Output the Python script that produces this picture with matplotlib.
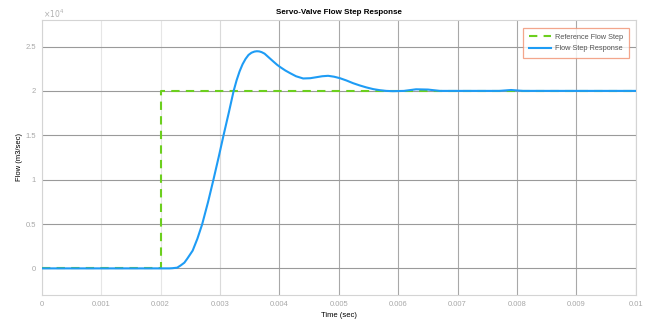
import numpy as np
import matplotlib
matplotlib.use('Agg')
import matplotlib.pyplot as plt

plt.rcParams['font.family'] = ['Liberation Sans', 'DejaVu Sans']

# Reference step command (time in sec, flow in m3/sec)
ref_t = [0.0, 0.002, 0.002, 0.01]
ref_flow = [0.0, 0.0, 2.0e4, 2.0e4]

# Simulated servo-valve flow response, sampled off the run (flow in 1e4 m3/sec)
resp_t = [0.0, 0.00215, 0.00220, 0.00228, 0.00234, 0.00240, 0.00245, 0.00254,
          0.00262, 0.00270, 0.00280, 0.00289, 0.00298, 0.00306, 0.00315,
          0.00323, 0.00328, 0.00333, 0.00338, 0.00343, 0.00348, 0.00353,
          0.00358, 0.00362, 0.00366, 0.00370, 0.00375, 0.00380, 0.00385,
          0.00390, 0.00396, 0.00401, 0.00410, 0.00418, 0.00428,
          0.00440, 0.00452, 0.00463, 0.00472, 0.00482, 0.00492, 0.00502,
          0.00513, 0.00524, 0.00535, 0.00546, 0.00558, 0.00569, 0.00580,
          0.00591, 0.0061, 0.0063, 0.0065, 0.0067, 0.0070, 0.0077, 0.0079,
          0.0081, 0.0085, 0.01]
resp_flow = [0.0, 0.0, 0.002, 0.008, 0.034, 0.064, 0.11, 0.20,
             0.335, 0.497, 0.75, 1.00, 1.26, 1.50, 1.76,
             2.00, 2.12, 2.22, 2.30, 2.36, 2.405, 2.43,
             2.443, 2.447, 2.445, 2.437, 2.42, 2.39, 2.36,
             2.33, 2.295, 2.27, 2.23, 2.20, 2.165,
             2.14, 2.143, 2.155, 2.165, 2.17, 2.16, 2.143,
             2.117, 2.087, 2.062, 2.04, 2.02, 2.008, 2.0,
             1.997, 2.0, 2.018, 2.015, 2.0, 2.0, 2.0, 2.01,
             2.0, 2.0, 2.0]
resp_flow = [v * 1e4 for v in resp_flow]

x_ticks = [0, 0.001, 0.002, 0.003, 0.004, 0.005, 0.006, 0.007, 0.008, 0.009, 0.01]
x_tick_labels = ['0', '0.001', '0.002', '0.003', '0.004', '0.005',
                 '0.006', '0.007', '0.008', '0.009', '0.01']
y_ticks = [0, 0.5e4, 1.0e4, 1.5e4, 2.0e4, 2.5e4]
y_tick_labels = ['0', '0.5', '1', '1.5', '2', '2.5']

fig = plt.figure(figsize=(6.63, 3.21), dpi=100)
ax = fig.add_axes([0.063, 0.081, 0.896, 0.857])

ax.plot(ref_t, ref_flow, color='#6ccf1e', linewidth=1.5, linestyle=(0, (4, 3)),
        label='Reference Flow Step', zorder=3)
ax.plot(resp_t, resp_flow, color='#1e9cf5', linewidth=1.5,
        label='Flow Step Response', zorder=4)

ax.set_xlim(0, 0.01)
ax.set_ylim(-0.3e4, 2.8e4)
ax.set_xticks(x_ticks)
ax.set_xticklabels(x_tick_labels)
ax.set_yticks(y_ticks)
ax.set_yticklabels(y_tick_labels)
ax.text(0.002, 1.0, r'$\times10^4$', transform=ax.transAxes, fontsize=5.5,
        color='#b0b0b0', ha='left', va='bottom')

ax.tick_params(length=0, labelsize=5.5, labelcolor='#a8a8a8', pad=4)
for s in ax.spines.values():
    s.set_color('#d4d4d4')
    s.set_linewidth(0.8)

ax.grid(True, color='#9a9a9a', linewidth=0.8)
# early vertical gridlines render much fainter than the rest
x_grid_colors = ['#e6e6e6', '#e6e6e6', '#e6e6e6', '#dadada', '#a8a8a8', '#a8a8a8',
                 '#a8a8a8', '#a8a8a8', '#a8a8a8', '#a8a8a8', '#a8a8a8']
for gl, c in zip(ax.xaxis.get_gridlines(), x_grid_colors):
    gl.set_color(c)
ax.set_axisbelow(True)

ax.set_title('Servo-Valve Flow Step Response', fontsize=5.8, fontweight='bold', pad=4)
ax.set_xlabel('Time (sec)', fontsize=5.5, labelpad=3)
ax.set_ylabel('Flow (m3/sec)', fontsize=5.5, labelpad=2)

leg = ax.legend(loc='upper right', fontsize=5.3, frameon=True, fancybox=False,
                edgecolor='#f09070', handlelength=3.0, handletextpad=0.5,
                borderpad=0.8, labelspacing=0.6, bbox_to_anchor=(0.995, 0.985))
leg.get_frame().set_linewidth(0.9)
for t in leg.get_texts():
    t.set_color('#555555')

fig.savefig('out.png', dpi=100)
